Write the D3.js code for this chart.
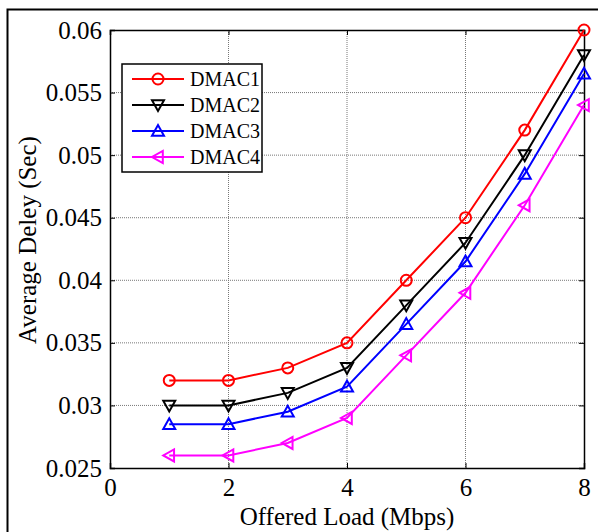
<!DOCTYPE html>
<html>
<head>
<meta charset="utf-8">
<script src="https://cdn.jsdelivr.net/npm/d3@7"></script>
<style>
  body { margin: 0; background: #fff; }
  text { font-family: "Liberation Serif", "Times New Roman", serif; }
</style>
</head>
<body>
<svg id="chart" width="598" height="532"></svg>
<script>
// offered load (Mbps)
var loads = [1, 2, 3, 4, 5, 6, 7, 8];
var dmac1 = [0.032, 0.032, 0.033, 0.035, 0.040, 0.045, 0.052, 0.060];
var dmac2 = [0.030, 0.030, 0.031, 0.033, 0.038, 0.043, 0.050, 0.058];
var dmac3 = [0.0285, 0.0285, 0.0295, 0.0315, 0.0365, 0.0415, 0.0485, 0.0565];
var dmac4 = [0.026, 0.026, 0.027, 0.029, 0.034, 0.039, 0.046, 0.054];
var seriesNames = ["DMAC1", "DMAC2", "DMAC3", "DMAC4"];
var xTicks = [0, 2, 4, 6, 8];
var yTicks = [0.025, 0.03, 0.035, 0.04, 0.045, 0.05, 0.055, 0.06];

var series = [
  {name: seriesNames[0], vals: dmac1, color: "#ff0000", marker: "circle"},
  {name: seriesNames[1], vals: dmac2, color: "#000000", marker: "down"},
  {name: seriesNames[2], vals: dmac3, color: "#0000ff", marker: "up"},
  {name: seriesNames[3], vals: dmac4, color: "#ff00ff", marker: "left"}
];

var margin = {left: 110, right: 14, top: 30, bottom: 64};
var width = 598 - margin.left - margin.right;
var height = 532 - margin.top - margin.bottom;

var svg = d3.select("#chart");

// outer figure frame
svg.append("rect")
  .attr("x", 7.5).attr("y", 9.5)
  .attr("width", 620).attr("height", 560)
  .attr("fill", "none").attr("stroke", "#000").attr("stroke-width", 2);

var x = d3.scaleLinear().domain([0, 8]).range([0, width]);
var y = d3.scaleLinear().domain([0.025, 0.06]).range([height, 0]);

var g = svg.append("g").attr("transform", "translate(" + margin.left + "," + margin.top + ")");

// grid
g.append("g").selectAll("line")
  .data(xTicks.slice(1, -1)).enter().append("line")
  .attr("x1", d => x(d)).attr("x2", d => x(d))
  .attr("y1", 0).attr("y2", height)
  .attr("stroke", "#777").attr("stroke-dasharray", "1,1");
g.append("g").selectAll("line")
  .data(yTicks.slice(1, -1)).enter().append("line")
  .attr("y1", d => y(d)).attr("y2", d => y(d))
  .attr("x1", 0).attr("x2", width)
  .attr("stroke", "#777").attr("stroke-dasharray", "1,1");

// axes with inward ticks
var fmt = d => d3.format("")(+d.toFixed(3));
var xAxis = d3.axisBottom(x).tickValues(xTicks).tickSize(-5).tickPadding(10).tickFormat(d => d);
var yAxis = d3.axisLeft(y).tickValues(yTicks).tickSize(-5).tickPadding(8).tickFormat(fmt);

g.append("g").attr("class", "axis").attr("transform", "translate(0," + height + ")").call(xAxis);
g.append("g").attr("class", "axis").call(yAxis);
g.append("g").attr("class", "axis").call(d3.axisTop(x).tickValues(xTicks).tickSize(-5).tickFormat(""));
g.append("g").attr("class", "axis").attr("transform", "translate(" + width + ",0)")
  .call(d3.axisRight(y).tickValues(yTicks).tickSize(-5).tickFormat(""));

g.selectAll(".axis path").attr("stroke", "#000").attr("stroke-width", 1.5);
g.selectAll(".axis line").attr("stroke", "#000");
g.selectAll(".axis text").attr("font-size", 25).attr("fill", "#000")
  .style("font-family", "'Liberation Serif', 'Times New Roman', serif");

// marker drawing
function drawMarker(sel, type, color) {
  var r = 6;
  if (type === "circle") {
    sel.append("circle").attr("r", 5.5);
  } else {
    var pts;
    if (type === "down") pts = [[-r, -r * 0.8], [r, -r * 0.8], [0, r]];
    if (type === "up") pts = [[-r, r * 0.8], [r, r * 0.8], [0, -r]];
    if (type === "left") pts = [[r * 0.8, -r], [r * 0.8, r], [-r, 0]];
    sel.append("polygon").attr("points", pts.map(p => p.join(",")).join(" "));
  }
  sel.selectAll("circle,polygon").attr("fill", "none").attr("stroke", color).attr("stroke-width", 2);
}

var line = d3.line().x((d, i) => x(loads[i])).y(d => y(d));

series.forEach(function(s) {
  g.append("path").datum(s.vals)
    .attr("d", line).attr("fill", "none")
    .attr("stroke", s.color).attr("stroke-width", 2);
  g.selectAll(null).data(s.vals).enter().append("g")
    .attr("transform", (d, i) => "translate(" + x(loads[i]) + "," + y(d) + ")")
    .each(function() { drawMarker(d3.select(this), s.marker, s.color); });
});

// axis labels
svg.append("text")
  .attr("x", margin.left + width / 2).attr("y", 525)
  .attr("text-anchor", "middle").attr("font-size", 25)
  .text("Offered Load (Mbps)");
svg.append("text")
  .attr("transform", "translate(36,240) rotate(-90)")
  .attr("text-anchor", "middle").attr("font-size", 25)
  .text("Average Deley (Sec)");

// legend
var lg = svg.append("g").attr("transform", "translate(122,64)");
lg.append("rect").attr("width", 140).attr("height", 108)
  .attr("fill", "#fff").attr("stroke", "#000").attr("stroke-width", 1.5);
series.forEach(function(s, i) {
  var row = lg.append("g").attr("transform", "translate(0," + (15 + i * 26) + ")");
  row.append("line").attr("x1", 10).attr("x2", 62)
    .attr("stroke", s.color).attr("stroke-width", 2);
  var m = row.append("g").attr("transform", "translate(36,0)");
  drawMarker(m, s.marker, s.color);
  row.append("text").attr("x", 68).attr("y", 7).attr("font-size", 20).text(s.name);
});
</script>
</body>
</html>
